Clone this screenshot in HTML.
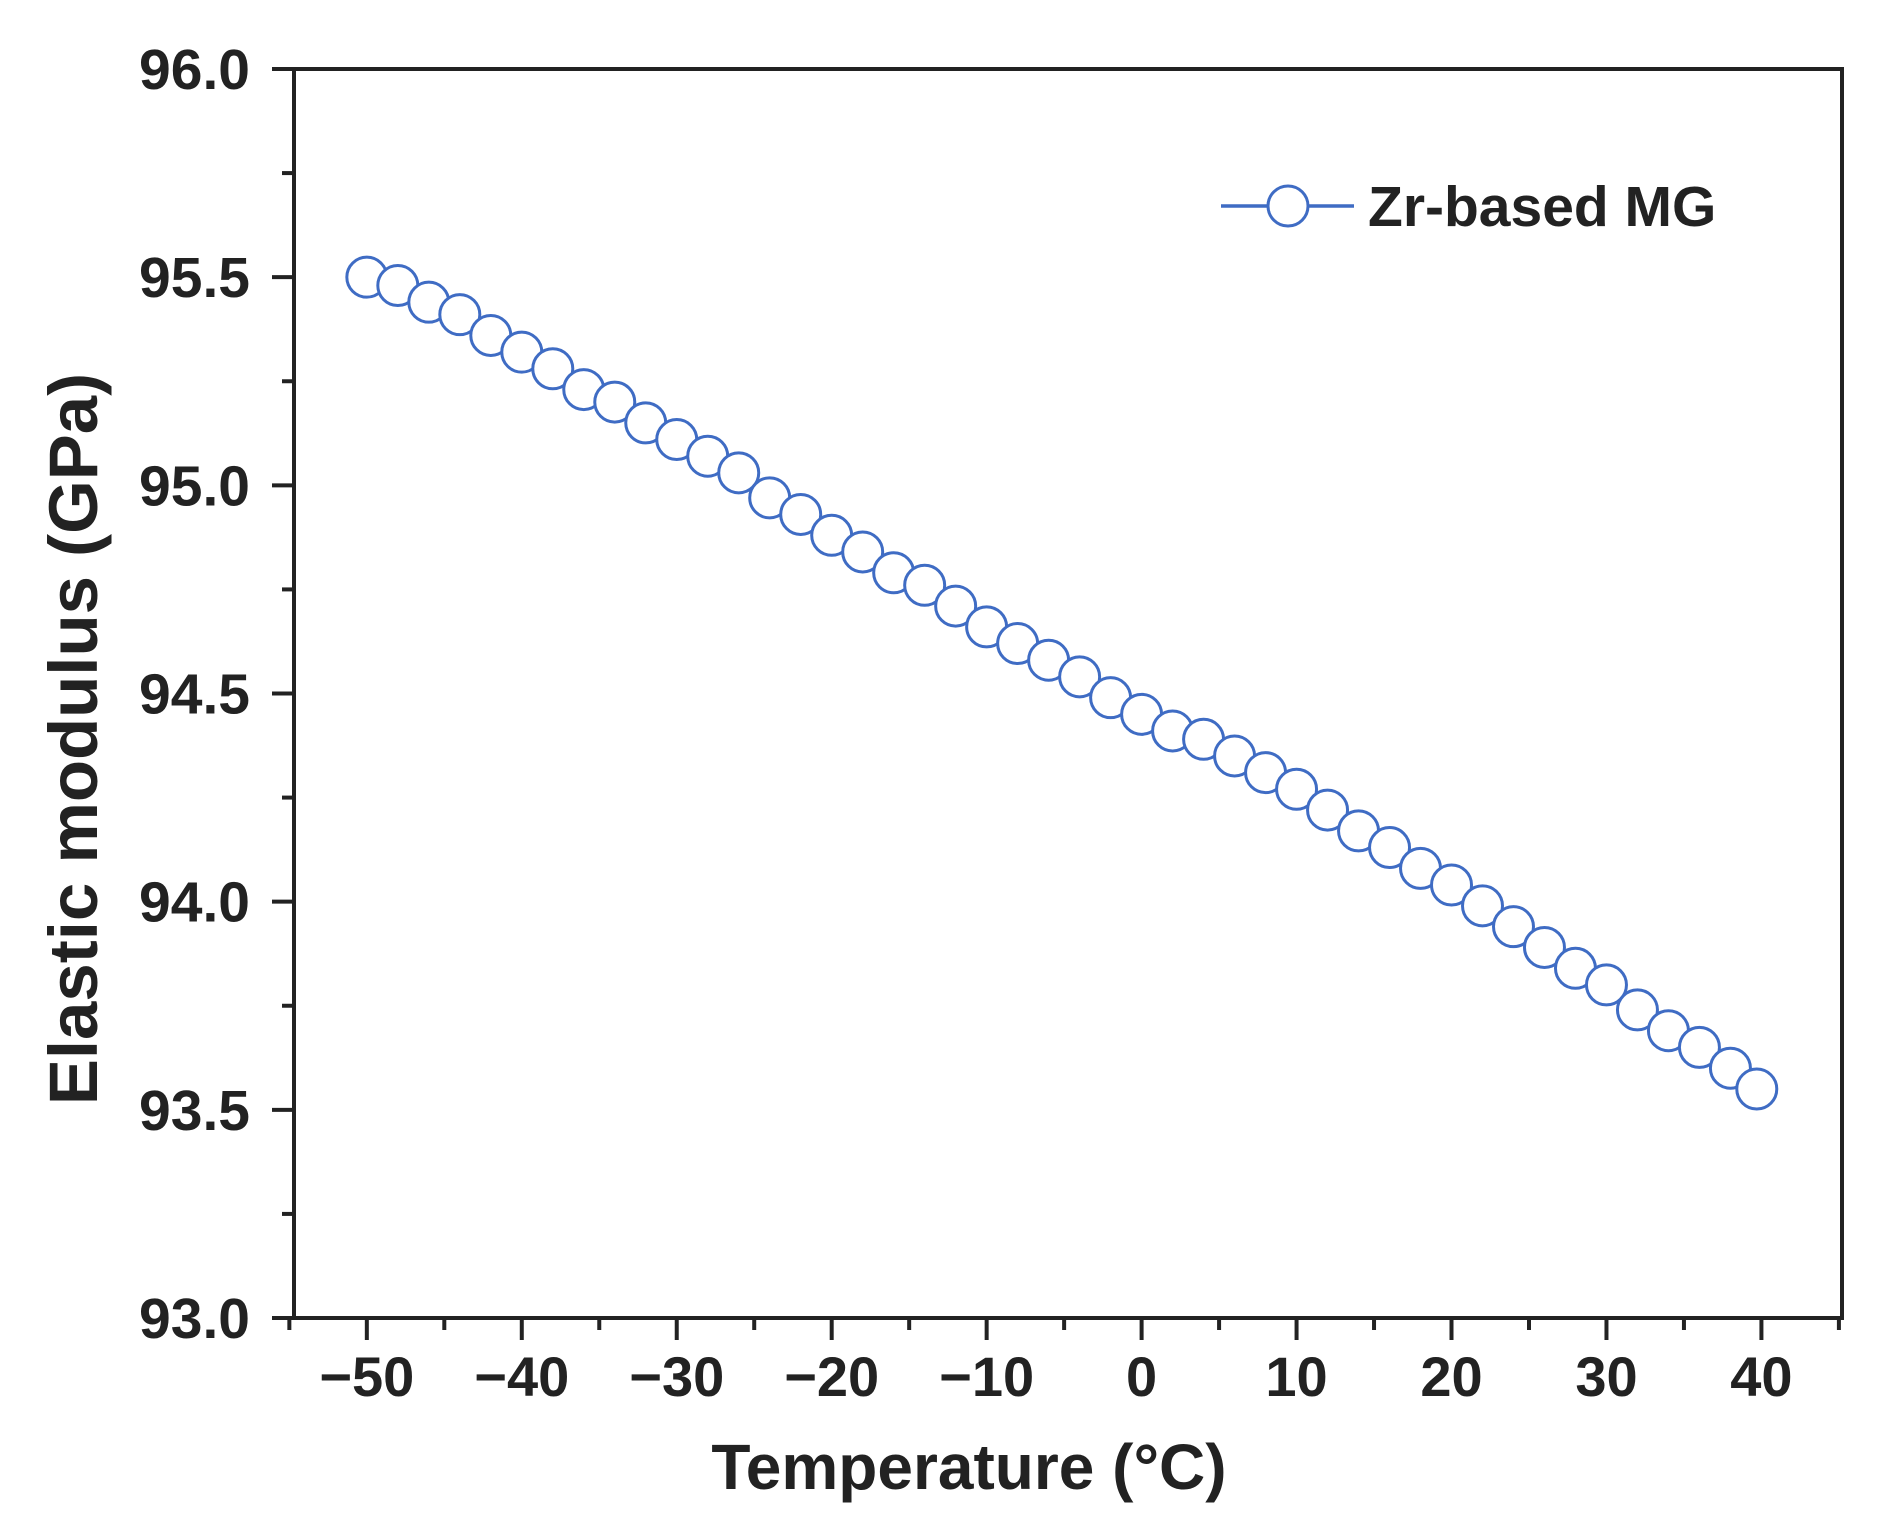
<!DOCTYPE html>
<html><head><meta charset="utf-8"><style>
html,body{margin:0;padding:0;background:#fff;}
svg{display:block;font-family:"Liberation Sans",Arial,sans-serif;font-weight:bold;}
</style></head><body>
<svg id="chart" width="1899" height="1539" viewBox="0 0 1899 1539" xmlns="http://www.w3.org/2000/svg">
<g id="axes"></g>
<g id="series"></g>
<text transform="translate(97,739) rotate(-90)" text-anchor="middle" font-size="69" fill="#222">Elastic modulus (GPa)</text>
<text x="969" y="1489" text-anchor="middle" font-size="64" fill="#222">Temperature (°C)</text>
<g>
<line x1="1221" y1="206" x2="1354" y2="206" stroke="#3f6cc4" stroke-width="3.5"/>
<circle cx="1288" cy="206" r="20" fill="#fff" stroke="#3f6cc4" stroke-width="3"/>
<text x="1368" y="226" font-size="57" fill="#222">Zr-based MG</text>
</g>
</svg>
<script>
const temps = [-50,-48,-46,-44,-42,-40,-38,-36,-34,-32,-30,-28,-26,-24,-22,-20,-18,-16,-14,-12,-10,-8,-6,-4,-2,0,2,4,6,8,10,12,14,16,18,20,22,24,26,28,30,32,34,36,38,39.7];
const modulus = [95.50,95.48,95.44,95.41,95.36,95.32,95.28,95.23,95.20,95.15,95.11,95.07,95.03,94.97,94.93,94.88,94.84,94.79,94.76,94.71,94.66,94.62,94.58,94.54,94.49,94.45,94.41,94.39,94.35,94.31,94.27,94.22,94.17,94.13,94.08,94.04,93.99,93.94,93.89,93.84,93.80,93.74,93.69,93.65,93.60,93.55];
const xTicks = [-50,-40,-30,-20,-10,0,10,20,30,40];
const xTickLabels = ["\u221250","\u221240","\u221230","\u221220","\u221210","0","10","20","30","40"];
const yTicks = [93.0,93.5,94.0,94.5,95.0,95.5,96.0];
const yTickLabels = ["93.0","93.5","94.0","94.5","95.0","95.5","96.0"];

const L=294,R=1842,T=69,B=1318,XMIN=-54.7,XMAX=45.2,YMIN=93,YMAX=96;
const sx=v=>L+(v-XMIN)/(XMAX-XMIN)*(R-L);
const sy=v=>B-(v-YMIN)/(YMAX-YMIN)*(B-T);
const NS="http://www.w3.org/2000/svg";
function mk(tag,attrs,parent,text){const e=document.createElementNS(NS,tag);for(const k in attrs)e.setAttribute(k,attrs[k]);if(text!==undefined)e.textContent=text;parent.appendChild(e);return e;}
const axes=document.getElementById('axes');
const frame=mk('rect',{x:L,y:T,width:R-L,height:B-T,fill:'none',stroke:'#222','stroke-width':4},axes);


xTicks.forEach((v,i)=>{
  const t=mk('line',{x1:sx(v),x2:sx(v),y1:B,y2:B+22,stroke:'#222','stroke-width':4},axes);
  
  
  const m=mk('line',{x1:sx(v+5),x2:sx(v+5),y1:B,y2:B+12,stroke:'#222','stroke-width':4},axes);
  
  
  const lb=mk('text',{x:sx(v),y:1396,'text-anchor':'middle','font-size':56,fill:'#222'},axes,xTickLabels[i]);
  
  
});
const m0=mk('line',{x1:sx(-55),x2:sx(-55),y1:B,y2:B+12,stroke:'#222','stroke-width':4},axes);


yTicks.forEach((v,i)=>{
  const t=mk('line',{x1:L-22,x2:L,y1:sy(v),y2:sy(v),stroke:'#222','stroke-width':4},axes);
  
  
  if(v<96){const m=mk('line',{x1:L-12,x2:L,y1:sy(v+0.25),y2:sy(v+0.25),stroke:'#222','stroke-width':4},axes);
  
  }
  const lb=mk('text',{x:L-44,y:sy(v)+20,'text-anchor':'end','font-size':57,fill:'#222'},axes,yTickLabels[i]);
  
  
});
const series=document.getElementById('series');
const pl=mk('polyline',{points:temps.map((t,i)=>sx(t)+','+sy(modulus[i])).join(' '),fill:'none',stroke:'#3f6cc4','stroke-width':3},series);


temps.forEach((t,i)=>{
  const c=mk('circle',{cx:sx(t),cy:sy(modulus[i]),r:20,fill:'#fff',stroke:'#3f6cc4','stroke-width':3},series);
  
  
});
</script>
</body></html>
